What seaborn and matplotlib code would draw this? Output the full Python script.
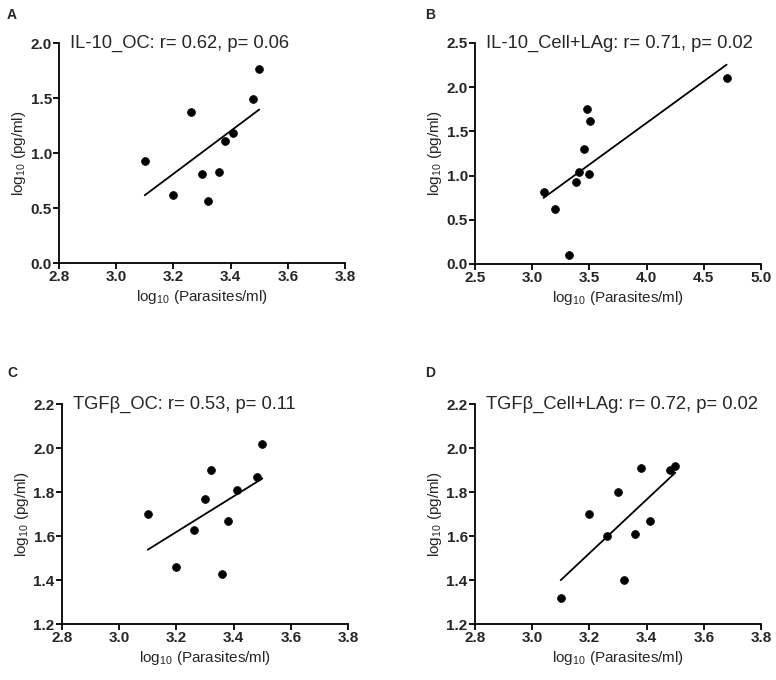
import numpy as np
import matplotlib
matplotlib.use("Agg")
import matplotlib.pyplot as plt
import seaborn as sns

# data (log10 parasites/ml vs log10 pg/ml)
il10_oc_x = [3.10, 3.20, 3.26, 3.30, 3.32, 3.36, 3.38, 3.41, 3.48, 3.50]
il10_oc_y = [0.93, 0.62, 1.37, 0.81, 0.56, 0.83, 1.11, 1.18, 1.49, 1.76]

il10_cell_x = [3.10, 3.20, 3.32, 3.38, 3.41, 3.45, 3.48, 3.50, 3.51, 4.70]
il10_cell_y = [0.81, 0.62, 0.10, 0.93, 1.04, 1.30, 1.75, 1.02, 1.62, 2.10]

tgf_oc_x = [3.10, 3.20, 3.26, 3.30, 3.32, 3.36, 3.38, 3.41, 3.48, 3.50]
tgf_oc_y = [1.70, 1.46, 1.63, 1.77, 1.90, 1.43, 1.67, 1.81, 1.87, 2.02]

tgf_cell_x = [3.10, 3.20, 3.26, 3.30, 3.32, 3.36, 3.38, 3.41, 3.48, 3.50]
tgf_cell_y = [1.32, 1.70, 1.60, 1.80, 1.40, 1.61, 1.91, 1.67, 1.90, 1.92]

panel_letters = ["A", "B", "C", "D"]
panel_titles = [
    "IL-10_OC: r= 0.62, p= 0.06",
    "IL-10_Cell+LAg: r= 0.71, p= 0.02",
    "TGF\u03b2_OC: r= 0.53, p= 0.11",
    "TGF\u03b2_Cell+LAg: r= 0.72, p= 0.02",
]

sns.set_style("ticks")
plt.rcParams["font.family"] = ["Liberation Sans", "DejaVu Sans"]
plt.rcParams["mathtext.fontset"] = "custom"
plt.rcParams["mathtext.rm"] = "Liberation Sans"
plt.rcParams["mathtext.it"] = "Liberation Sans"

fig = plt.figure(figsize=(7.76, 6.8), dpi=100)

# axes rectangles in figure fractions
rects = [
    [0.076, 0.6132, 0.3686, 0.3235],
    [0.612, 0.6118, 0.3686, 0.3250],
    [0.0795, 0.0819, 0.3694, 0.3235],
    [0.6117, 0.0819, 0.3694, 0.3235],
]
series = [
    (il10_oc_x, il10_oc_y, (2.8, 3.8), (0.0, 2.0), np.arange(2.8, 3.81, 0.2), np.arange(0, 2.01, 0.5)),
    (il10_cell_x, il10_cell_y, (2.5, 5.0), (0.0, 2.5), np.arange(2.5, 5.01, 0.5), np.arange(0, 2.51, 0.5)),
    (tgf_oc_x, tgf_oc_y, (2.8, 3.8), (1.2, 2.2), np.arange(2.8, 3.81, 0.2), np.arange(1.2, 2.21, 0.2)),
    (tgf_cell_x, tgf_cell_y, (2.8, 3.8), (1.2, 2.2), np.arange(2.8, 3.81, 0.2), np.arange(1.2, 2.21, 0.2)),
]

for i, (rect, (xs, ys, xl, yl, xt, yt)) in enumerate(zip(rects, series)):
    ax = fig.add_axes(rect)
    sns.regplot(x=np.array(xs), y=np.array(ys), ax=ax, ci=None, color="black",
                scatter_kws={"s": 32, "edgecolor": "black", "linewidths": 0.5, "alpha": 1},
                line_kws={"lw": 1.3})
    ax.set_xlim(*xl)
    ax.set_ylim(*yl)
    ax.set_xticks(xt)
    ax.set_yticks(yt)
    ax.set_xticklabels([f"{v:.1f}" for v in xt], fontweight="bold", fontsize=11)
    ax.set_yticklabels([f"{v:.1f}" for v in yt], fontweight="bold", fontsize=11)
    sns.despine(ax=ax)
    for s in ["left", "bottom"]:
        ax.spines[s].set_linewidth(1.3)
        ax.spines[s].set_color("black")
    ax.tick_params(length=4, width=1.3, color="black", pad=1)
    ax.set_xlabel("log$_{10}$ (Parasites/ml)", fontsize=11, labelpad=3)
    ax.set_ylabel("log$_{10}$ (pg/ml)", fontsize=11, labelpad=2)
    ax.text(0.04, 1.0, panel_titles[i], transform=ax.transAxes, fontsize=13.2,
            va="center", ha="left")
    ax.patch.set_alpha(0)

label_pos = [(0.009, 0.978), (0.548, 0.978), (0.009, 0.451), (0.548, 0.451)]
for (lx, ly), lab in zip(label_pos, panel_letters):
    fig.text(lx, ly, lab, fontsize=10, fontweight="bold", va="center", ha="left")

fig.savefig("out.png", dpi=100)
